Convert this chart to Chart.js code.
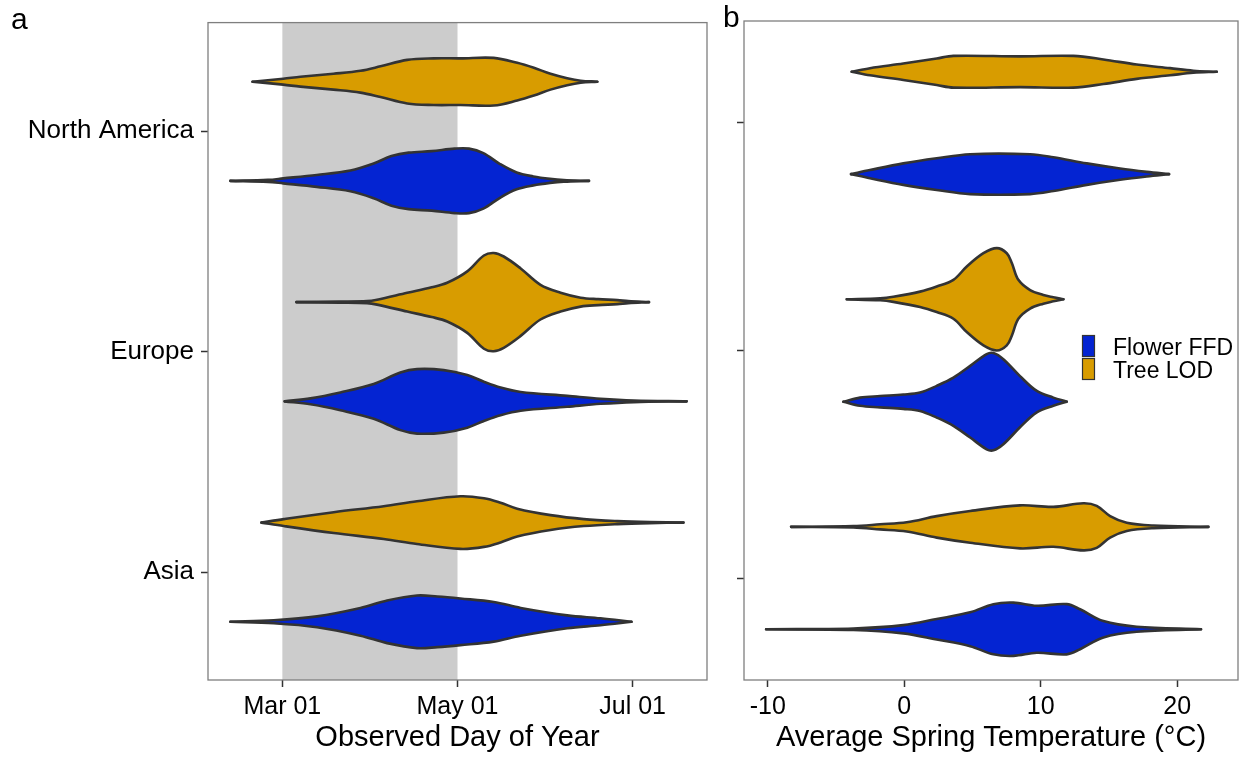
<!DOCTYPE html>
<html>
<head>
<meta charset="utf-8">
<script src="https://cdn.jsdelivr.net/npm/chart.js@4"></script>
<style>
  body { margin: 0; background: #fff; }
  #wrap { position: relative; width: 1248px; height: 757px; }
  canvas { position: absolute; top: 0; }
  #doy { left: 0; }
  #temp { left: 720px; }
</style>
</head>
<body>
<div id="wrap">
  <canvas id="doy" width="720" height="757"></canvas>
  <canvas id="temp" width="528" height="757"></canvas>
</div>
<script>
// categories, bottom to top (y = 1, 2, 3)
const regions = ['Asia', 'Europe', 'North America'];
const seriesNames = ['Flower FFD', 'Tree LOD'];

const dayTicks = [60, 121, 182];
const dayTickLabels = ['Mar 01', 'May 01', 'Jul 01'];
const shadeDays = [60, 121]; // Mar 01 - May 01
const tempTicks = [-10, 0, 10, 20];

// violin outlines: [value, relative half width]
// panel a: observed day of year
const doyNaTree = [[49.6,0],[60.3,0.06],[66.3,0.1],[77.8,0.16],[87.2,0.22],[94.2,0.31],[103.5,0.44],[112.7,0.47],[122,0.47],[133.6,0.48],[141.8,0.38],[147.6,0.28],[153.4,0.16],[159.2,0.07],[163.9,0.02],[169.7,0]];
const doyNaFlower = [[41.9,0],[55,0.02],[60.3,0.05],[72,0.12],[83.7,0.21],[91.8,0.35],[98,0.5],[104,0.57],[112,0.6],[120,0.65],[125,0.65],[130,0.56],[135.8,0.34],[141.6,0.17],[147.4,0.09],[153.2,0.04],[158,0.015],[166.8,0]];
const doyEuTree = [[64.9,0],[80,0.01],[89.5,0.02],[93,0.05],[103.5,0.19],[112,0.3],[117.4,0.39],[124.4,0.62],[130.2,0.94],[133.6,0.99],[137.1,0.92],[143,0.68],[149.9,0.35],[156.9,0.19],[163.9,0.09],[170,0.06],[176.7,0.04],[180.5,0.02],[187.7,0]];
const doyEuFlower = [[60.8,0],[69.8,0.06],[80.2,0.18],[91.8,0.35],[101.1,0.58],[106.9,0.65],[116.2,0.63],[124.4,0.53],[130,0.4],[136,0.28],[143,0.19],[159.2,0.11],[170.8,0.05],[182.4,0.015],[200.8,0]];
const doyAsTree = [[52.7,0],[60.5,0.07],[77.9,0.21],[95.3,0.33],[106.9,0.43],[122,0.53],[130.2,0.49],[136,0.4],[141.8,0.28],[153.4,0.15],[165,0.07],[176.7,0.03],[188,0.01],[199.7,0]];
const doyAsFlower = [[41.9,0],[57,0.03],[72.1,0.11],[87.2,0.28],[96.5,0.43],[106.9,0.53],[114,0.51],[122,0.47],[133.6,0.4],[143,0.28],[159.2,0.13],[170.8,0.07],[181.6,0]];

// panel b: average spring temperature
const tmpNaTree = [[-3.85,0],[-2.51,0.07],[-0.07,0.16],[2.38,0.26],[3.6,0.31],[8.48,0.30],[12.39,0.31],[14.59,0.24],[17.03,0.14],[19.47,0.07],[21.18,0.02],[22.89,0]];
const tmpNaFlower = [[-3.9,0],[-2.51,0.08],[-0.07,0.21],[2.38,0.31],[4.83,0.39],[9.22,0.39],[10.92,0.33],[13.37,0.21],[15.81,0.11],[17.77,0.045],[19.4,0]];
const tmpEuTree = [[-4.21,0],[-1.77,0.02],[-0.8,0.05],[1.16,0.15],[2.38,0.25],[3.6,0.38],[4.58,0.64],[5.8,0.9],[6.78,1.0],[7.51,0.9],[7.88,0.71],[8.36,0.38],[9.22,0.18],[10.19,0.085],[10.92,0.04],[11.66,0]];
const tmpEuFlower = [[-4.46,0],[-3.24,0.08],[-1.77,0.11],[-0.07,0.14],[1.16,0.18],[2.38,0.31],[3.6,0.47],[4.83,0.7],[6.04,0.93],[6.53,0.95],[7.26,0.83],[8.48,0.5],[9.71,0.21],[10.92,0.08],[11.9,0]];
const tmpAsTree = [[-8.29,0],[-3.73,0.014],[-1.77,0.05],[0.18,0.09],[2.38,0.21],[4.83,0.31],[8.48,0.42],[10.92,0.39],[13.12,0.46],[14.1,0.41],[15.08,0.21],[16.3,0.08],[18.25,0.026],[22.28,0]];
const tmpAsFlower = [[-10.12,0],[-3.73,0.014],[-0.07,0.08],[2.38,0.2],[4.83,0.33],[6.53,0.49],[8.0,0.52],[9.71,0.46],[11.9,0.49],[12.88,0.39],[14.59,0.16],[17.03,0.05],[21.74,0]];

const FLOWER = '#0424D2';
const TREE = '#D89C00';
const OUTLINE = '#333333';
const HALF = 0.225;   // max half width of a violin (dodge width / 2)
const DODGE = 0.225;  // offset of each violin from the category line

Chart.defaults.font.family = "'Liberation Sans', Arial, sans-serif";
Chart.defaults.color = '#000';

// two line datasets (upper and lower edge); the lower one fills up to the upper
function violin(points, region, isTree) {
  const center = regions.indexOf(region) + 1 + (isTree ? DODGE : -DODGE);
  const color = isTree ? TREE : FLOWER;
  const edge = sign => points.map(p => ({ x: p[0], y: center + sign * p[1] * HALF }));
  const common = {
    type: 'line',
    borderColor: OUTLINE,
    borderWidth: 2.6,
    borderJoinStyle: 'round',
    borderCapStyle: 'round',
    pointRadius: 0,
    tension: 0.35,
  };
  return [
    Object.assign({}, common, { data: edge(1), fill: false }),
    Object.assign({}, common, { data: edge(-1), fill: '-1', backgroundColor: color }),
  ];
}

function tickGrid() {
  return { drawOnChartArea: false, drawTicks: true, tickLength: 7, tickColor: OUTLINE, tickWidth: 1.5 };
}

const frame = {
  id: 'frame',
  afterDatasetsDraw(chart) {
    const { ctx, chartArea: a } = chart;
    ctx.save();
    ctx.strokeStyle = '#7f7f7f';
    ctx.lineWidth = 1.3;
    ctx.strokeRect(a.left, a.top, a.right - a.left, a.bottom - a.top);
    ctx.restore();
  }
};

const shade = {
  id: 'shade',
  beforeDatasetsDraw(chart) {
    const { ctx, chartArea: a, scales: { x } } = chart;
    const x0 = x.getPixelForValue(shadeDays[0]);
    const x1 = x.getPixelForValue(shadeDays[1]);
    ctx.save();
    ctx.fillStyle = '#cccccc';
    ctx.fillRect(x0, a.top, x1 - x0, a.bottom - a.top);
    ctx.restore();
  }
};

function panelLetter(letter, px, py) {
  return {
    id: 'letter',
    afterDraw(chart) {
      const ctx = chart.ctx;
      ctx.save();
      ctx.font = "30px 'Liberation Sans', Arial, sans-serif";
      ctx.fillStyle = '#000';
      ctx.textBaseline = 'alphabetic';
      ctx.fillText(letter, px, py);
      ctx.restore();
    }
  };
}

const legendBox = {
  id: 'legendBox',
  afterDraw(chart) {
    const ctx = chart.ctx;
    const colors = [FLOWER, TREE];
    ctx.save();
    ctx.font = "23px 'Liberation Sans', Arial, sans-serif";
    ctx.textBaseline = 'alphabetic';
    seriesNames.forEach((name, i) => {
      const y = 335 + i * 23;
      ctx.fillStyle = colors[i];
      ctx.fillRect(362, y, 13, 22);
      ctx.strokeStyle = OUTLINE;
      ctx.lineWidth = 1.2;
      ctx.strokeRect(362.5, y + 0.5, 12, 21);
      ctx.fillStyle = '#000';
      ctx.fillText(name, 393, y + 20);
    });
    ctx.restore();
  }
};

const baseOptions = {
  responsive: false,
  animation: false,
  devicePixelRatio: 1,
  events: [],
  plugins: { legend: { display: false }, tooltip: { enabled: false } },
};

new Chart(document.getElementById('doy'), {
  type: 'line',
  data: {
    datasets: [].concat(
      violin(doyNaTree, 'North America', true),
      violin(doyNaFlower, 'North America', false),
      violin(doyEuTree, 'Europe', true),
      violin(doyEuFlower, 'Europe', false),
      violin(doyAsTree, 'Asia', true),
      violin(doyAsFlower, 'Asia', false)
    )
  },
  options: Object.assign({}, baseOptions, {
    layout: { padding: { top: 21, right: 13, left: 0, bottom: 0 } },
    scales: {
      x: {
        type: 'linear', min: 34.1, max: 207.9,
        afterBuildTicks: s => { s.ticks = dayTicks.map(v => ({ value: v })); },
        afterFit: s => { s.height = 77; },
        ticks: { callback: (v, i) => dayTickLabels[i], font: { size: 25 }, color: '#000', padding: 5, maxRotation: 0, autoSkip: false },
        grid: tickGrid(),
        border: { display: false },
        title: { display: true, text: 'Observed Day of Year', font: { size: 29 }, color: '#000', padding: { top: 0, bottom: 2 } }
      },
      y: {
        type: 'linear', min: 0.511, max: 3.493,
        afterBuildTicks: s => { s.ticks = [1, 2, 3].map(v => ({ value: v })); },
        afterFit: s => { s.width = 208; },
        ticks: { callback: v => regions[v - 1], font: { size: 26 }, color: '#000', padding: 7, autoSkip: false },
        grid: tickGrid(),
        border: { display: false }
      }
    }
  }),
  plugins: [shade, frame, panelLetter('a', 11, 29)]
});

new Chart(document.getElementById('temp'), {
  type: 'line',
  data: {
    datasets: [].concat(
      violin(tmpNaTree, 'North America', true),
      violin(tmpNaFlower, 'North America', false),
      violin(tmpEuTree, 'Europe', true),
      violin(tmpEuFlower, 'Europe', false),
      violin(tmpAsTree, 'Asia', true),
      violin(tmpAsFlower, 'Asia', false)
    )
  },
  options: Object.assign({}, baseOptions, {
    layout: { padding: { top: 21, right: 10, left: 0, bottom: 0 } },
    scales: {
      x: {
        type: 'linear', min: -11.74, max: 24.45,
        afterBuildTicks: s => { s.ticks = tempTicks.map(v => ({ value: v })); },
        afterFit: s => { s.height = 77; },
        ticks: { font: { size: 25 }, color: '#000', padding: 5, maxRotation: 0, autoSkip: false },
        grid: tickGrid(),
        border: { display: false },
        title: { display: true, text: 'Average Spring Temperature (°C)', font: { size: 29 }, color: '#000', padding: { top: 0, bottom: 2 } }
      },
      y: {
        type: 'linear', min: 0.552, max: 3.448,
        afterBuildTicks: s => { s.ticks = [1, 2, 3].map(v => ({ value: v })); },
        afterFit: s => { s.width = 24; },
        ticks: { callback: () => '', padding: 0, autoSkip: false },
        grid: tickGrid(),
        border: { display: false }
      }
    }
  }),
  plugins: [frame, legendBox, panelLetter('b', 3, 27)]
});
</script>
</body>
</html>
